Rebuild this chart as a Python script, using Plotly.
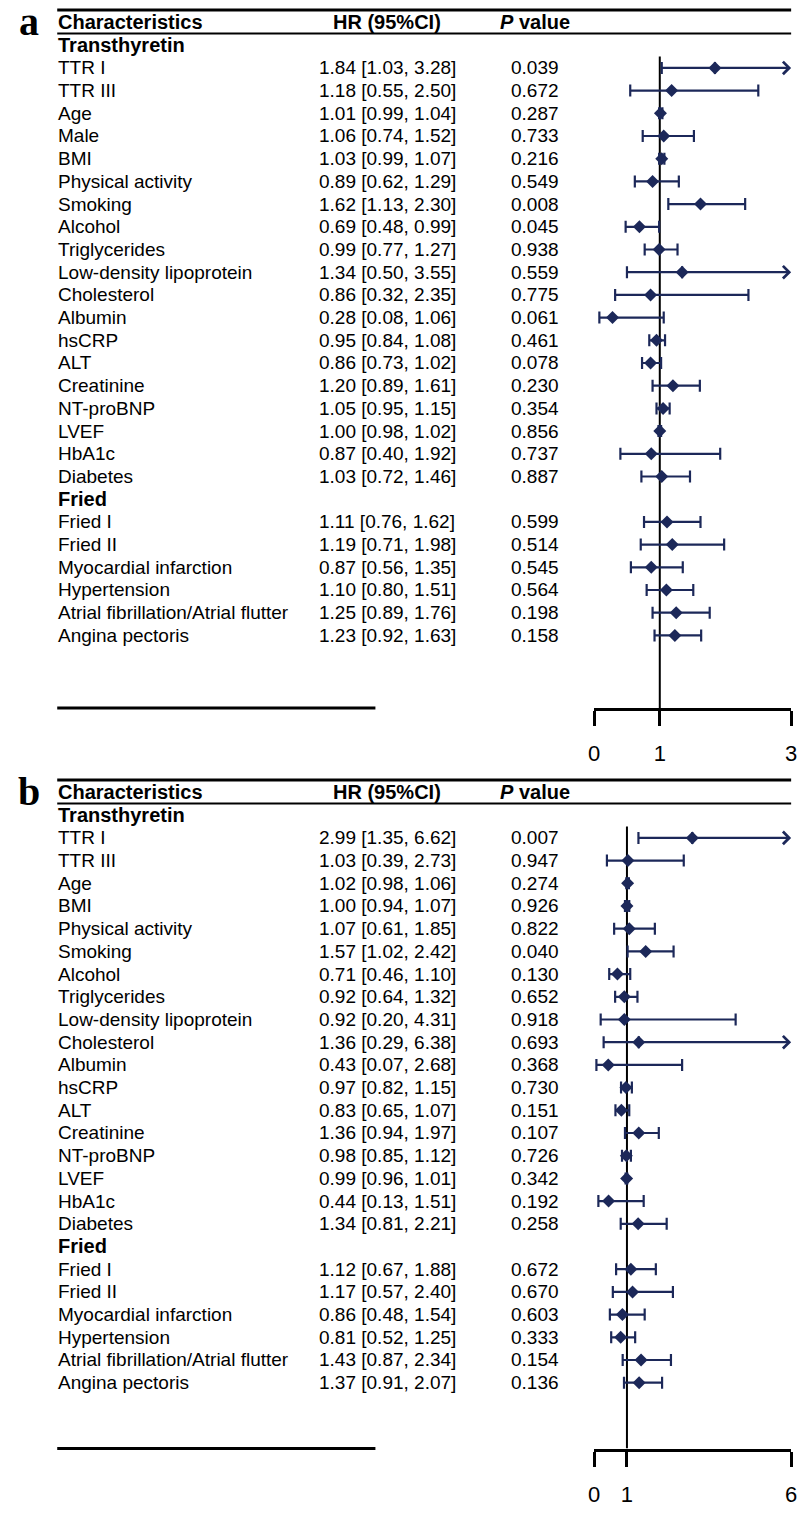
import plotly.graph_objects as go

# ---------------- data ----------------
a_labels = ["TTR I", "TTR III", "Age", "Male", "BMI", "Physical activity", "Smoking",
            "Alcohol", "Triglycerides", "Low-density lipoprotein", "Cholesterol",
            "Albumin", "hsCRP", "ALT", "Creatinine", "NT-proBNP", "LVEF", "HbA1c",
            "Diabetes", "Fried I", "Fried II", "Myocardial infarction", "Hypertension",
            "Atrial fibrillation/Atrial flutter", "Angina pectoris"]
a_groups = ["Transthyretin"] * 19 + ["Fried"] * 6
a_hr = [1.84, 1.18, 1.01, 1.06, 1.03, 0.89, 1.62, 0.69, 0.99, 1.34, 0.86, 0.28, 0.95,
        0.86, 1.20, 1.05, 1.00, 0.87, 1.03, 1.11, 1.19, 0.87, 1.10, 1.25, 1.23]
a_lo = [1.03, 0.55, 0.99, 0.74, 0.99, 0.62, 1.13, 0.48, 0.77, 0.50, 0.32, 0.08, 0.84,
        0.73, 0.89, 0.95, 0.98, 0.40, 0.72, 0.76, 0.71, 0.56, 0.80, 0.89, 0.92]
a_hi = [3.28, 2.50, 1.04, 1.52, 1.07, 1.29, 2.30, 0.99, 1.27, 3.55, 2.35, 1.06, 1.08,
        1.02, 1.61, 1.15, 1.02, 1.92, 1.46, 1.62, 1.98, 1.35, 1.51, 1.76, 1.63]
a_p = [0.039, 0.672, 0.287, 0.733, 0.216, 0.549, 0.008, 0.045, 0.938, 0.559, 0.775,
       0.061, 0.461, 0.078, 0.230, 0.354, 0.856, 0.737, 0.887, 0.599, 0.514, 0.545,
       0.564, 0.198, 0.158]
a_ticks = [0, 1, 3]

b_labels = ["TTR I", "TTR III", "Age", "BMI", "Physical activity", "Smoking",
            "Alcohol", "Triglycerides", "Low-density lipoprotein", "Cholesterol",
            "Albumin", "hsCRP", "ALT", "Creatinine", "NT-proBNP", "LVEF", "HbA1c",
            "Diabetes", "Fried I", "Fried II", "Myocardial infarction", "Hypertension",
            "Atrial fibrillation/Atrial flutter", "Angina pectoris"]
b_groups = ["Transthyretin"] * 18 + ["Fried"] * 6
b_hr = [2.99, 1.03, 1.02, 1.00, 1.07, 1.57, 0.71, 0.92, 0.92, 1.36, 0.43, 0.97, 0.83,
        1.36, 0.98, 0.99, 0.44, 1.34, 1.12, 1.17, 0.86, 0.81, 1.43, 1.37]
b_lo = [1.35, 0.39, 0.98, 0.94, 0.61, 1.02, 0.46, 0.64, 0.20, 0.29, 0.07, 0.82, 0.65,
        0.94, 0.85, 0.96, 0.13, 0.81, 0.67, 0.57, 0.48, 0.52, 0.87, 0.91]
b_hi = [6.62, 2.73, 1.06, 1.07, 1.85, 2.42, 1.10, 1.32, 4.31, 6.38, 2.68, 1.15, 1.07,
        1.97, 1.12, 1.01, 1.51, 2.21, 1.88, 2.40, 1.54, 1.25, 2.34, 2.07]
b_p = [0.007, 0.947, 0.274, 0.926, 0.822, 0.040, 0.130, 0.652, 0.918, 0.693, 0.368,
       0.730, 0.151, 0.107, 0.726, 0.342, 0.192, 0.258, 0.672, 0.670, 0.603, 0.333,
       0.154, 0.136]
b_ticks = [0, 1, 6]

headers = ["Characteristics", "HR (95%CI)", "P value"]
panel_letters = ["a", "b"]

# ---------------- style / layout ----------------
W, H = 806, 1525
ROW = 22.7
NAVY = "#1c2859"
SANS = "Arial, 'Liberation Sans', sans-serif"
SERIF = "'Times New Roman', 'Liberation Serif', serif"
FS = 19
FS_HEAD = 20
X_LEFT, X_HR_C, X_P_C = 52, 387, 537
LINE_L, LINE_R, LINE_MID = 52, 797, 375
PLOT_L, PLOT_R = 597, 797
TOP_ROWS = 1.55

fig = go.Figure()
annotations = []
shapes = []


def build_rows(labels, groups):
    rows = []
    prev = None
    for i, (lab, g) in enumerate(zip(labels, groups)):
        if g != prev:
            rows.append(("header", g, None))
            prev = g
        rows.append(("item", lab, i))
    return rows


def txt(x, y, yref, text, anchor, size, family=SANS):
    return dict(x=x / W, y=y, xref="paper", yref=yref, text=text, showarrow=False,
                xanchor=anchor, yanchor="middle", borderpad=0,
                font=dict(family=family, size=size, color="black"))


panels = [
    (a_labels, a_groups, a_hr, a_lo, a_hi, a_p, a_ticks, 10, 3.2),
    (b_labels, b_groups, b_hr, b_lo, b_hi, b_p, b_ticks, 780, 2.9),
]

layout_axes = {}
for k, (labels, groups, hr, lo, hi, pv, ticks, top_px, bottom_rows) in enumerate(panels):
    sfx = "" if k == 0 else str(k + 1)
    xa, ya = "x" + sfx, "y" + sfx
    rows = build_rows(labels, groups)
    n = len(rows)
    y_bottom = n - 1 + bottom_rows
    y_top = -TOP_ROWS
    bottom_px = top_px + (y_bottom - y_top) * ROW
    xmax = ticks[-1]

    layout_axes["xaxis" + sfx] = dict(
        domain=[PLOT_L / W, PLOT_R / W], range=[0, xmax], anchor=ya,
        showgrid=False, zeroline=False, showline=True, linecolor="black", linewidth=3,
        ticks="outside", ticklen=15, tickwidth=3, tickcolor="black",
        tickvals=ticks, ticktext=[str(t) for t in ticks],
        tickfont=dict(family=SANS, size=22, color="black"), ticklabelstandoff=9,
        fixedrange=True)
    layout_axes["yaxis" + sfx] = dict(
        domain=[1 - bottom_px / H, 1 - top_px / H], range=[y_bottom, y_top],
        anchor=xa, visible=False, fixedrange=True)

    ys, xs, plus, minus, arrows = [], [], [], [], []
    for r, (kind, text, idx) in enumerate(rows):
        if kind == "header":
            annotations.append(txt(X_LEFT, r, ya, "<b>" + text + "</b>", "left", FS_HEAD))
            continue
        annotations.append(txt(X_LEFT, r, ya, text, "left", FS))
        annotations.append(txt(X_HR_C, r, ya,
                               f"{hr[idx]:.2f} [{lo[idx]:.2f}, {hi[idx]:.2f}]",
                               "center", FS))
        annotations.append(txt(X_P_C, r, ya, f"{pv[idx]:.3f}", "center", FS))
        ys.append(r)
        xs.append(hr[idx])
        minus.append(hr[idx] - lo[idx])
        if hi[idx] > xmax:
            plus.append(0)
            arrows.append((hr[idx], r))
        else:
            plus.append(hi[idx] - hr[idx])

    # arrows for CIs exceeding the axis range
    for (x0, r) in arrows:
        annotations.append(dict(x=xmax, y=r, ax=x0, ay=r, xref=xa, yref=ya,
                                axref=xa, ayref=ya, text="", showarrow=True,
                                arrowhead=4, arrowsize=1.1, arrowwidth=2.2,
                                arrowcolor=NAVY, standoff=0, startstandoff=0))

    fig.add_trace(go.Scatter(
        x=xs, y=ys, xaxis=xa, yaxis=ya, mode="markers",
        marker=dict(symbol="diamond", size=10, color=NAVY),
        error_x=dict(type="data", symmetric=False, array=plus, arrayminus=minus,
                     color=NAVY, thickness=2.2, width=6),
        cliponaxis=False, showlegend=False, hoverinfo="skip"))

    # column headers
    hy = -1
    annotations.append(txt(X_LEFT, hy, ya, "<b>" + headers[0] + "</b>", "left", FS_HEAD))
    annotations.append(txt(X_HR_C, hy, ya, "<b>" + headers[1] + "</b>", "center", FS_HEAD))
    p_words = headers[2].split(" ", 1)
    annotations.append(txt(X_P_C, hy, ya,
                           "<b><i>" + p_words[0] + "</i> " + p_words[1] + "</b>",
                           "center", FS_HEAD))
    # panel letter
    annotations.append(txt(23, hy - 0.05, ya, "<b>" + panel_letters[k] + "</b>",
                           "center", 40, SERIF))

    # rules
    shapes.append(dict(type="line", xref="paper", yref=ya + " domain",
                       x0=LINE_L / W, x1=LINE_R / W, y0=1, y1=1,
                       line=dict(color="black", width=3)))
    shapes.append(dict(type="line", xref="paper", yref=ya,
                       x0=LINE_L / W, x1=LINE_R / W, y0=-0.52, y1=-0.52,
                       line=dict(color="black", width=2)))
    shapes.append(dict(type="line", xref="paper", yref=ya + " domain",
                       x0=LINE_L / W, x1=LINE_MID / W, y0=0, y1=0,
                       line=dict(color="black", width=3)))
    # reference line at HR = 1
    shapes.append(dict(type="line", xref=xa, yref=ya, x0=1, x1=1, y0=0.5, y1=y_bottom,
                       line=dict(color="black", width=2), layer="below"))

fig.update_layout(
    width=W, height=H, margin=dict(l=0, r=0, t=0, b=0),
    paper_bgcolor="white", plot_bgcolor="rgba(0,0,0,0)",
    showlegend=False, annotations=annotations, shapes=shapes, **layout_axes)

fig.write_html("out.html", config={"displayModeBar": False},
               post_script="document.body.style.margin='0px';")
